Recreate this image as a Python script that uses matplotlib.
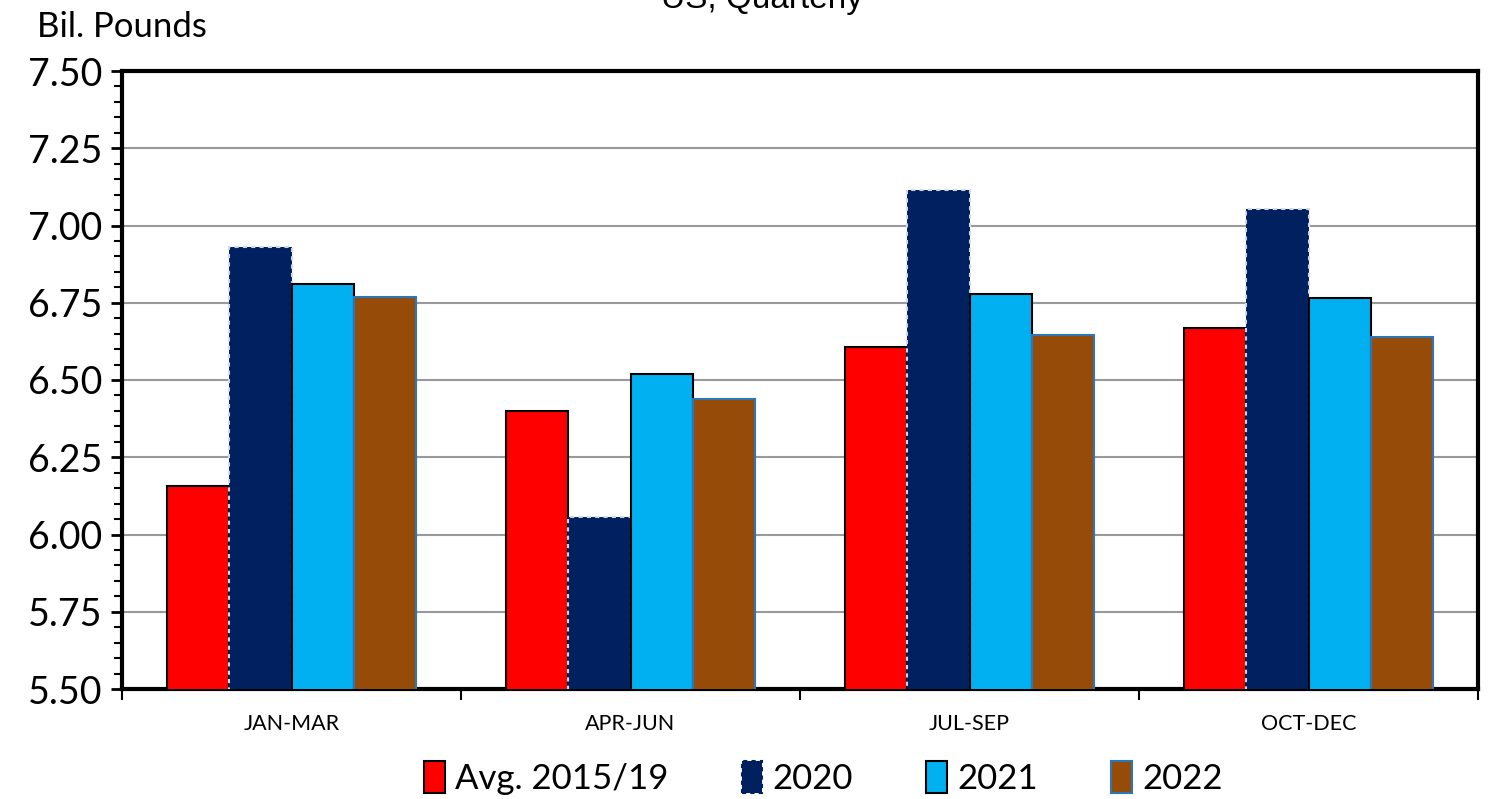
import numpy as np
import matplotlib
matplotlib.use('Agg')
import matplotlib.pyplot as plt
from matplotlib.patches import Patch
from matplotlib.ticker import MultipleLocator

quarters = ['JAN-MAR', 'APR-JUN', 'JUL-SEP', 'OCT-DEC']
series_names = ['Avg. 2015/19', '2020', '2021', '2022']
avg_2015_19 = [6.157, 6.400, 6.607, 6.668]
y2020 = [6.930, 6.057, 7.115, 7.053]
y2021 = [6.811, 6.519, 6.778, 6.765]
y2022 = [6.769, 6.438, 6.646, 6.639]

colors = ['#FF0000', '#002060', '#00B0F0', '#964B08']
edges = ['black', '#D0D8E8', 'black', '#2E75B6']
styles = ['solid', (0, (2, 2)), 'solid', 'solid']

plt.rcParams['font.family'] = ['Lato', 'DejaVu Sans']

fig = plt.figure(figsize=(14.89, 7.99), dpi=100)
ax = fig.add_axes([122 / 1489, 1 - 689 / 799, (1478 - 122) / 1489, (689 - 71) / 799])

x = np.arange(len(quarters))
w = 0.183
data = [avg_2015_19, y2020, y2021, y2022]
for i, vals in enumerate(data):
    ax.bar(x + (i - 1.5) * w, vals, width=w, color=colors[i], edgecolor=edges[i],
           linestyle=styles[i], linewidth=1.5, zorder=3)

ax.set_ylim(5.5, 7.5)
ax.set_xlim(-0.5, 3.5)
ax.yaxis.set_major_locator(MultipleLocator(0.25))
ax.yaxis.set_minor_locator(MultipleLocator(0.05))
ax.set_yticklabels([f'{v:.2f}' for v in ax.get_yticks()])
ax.grid(axis='y', color='#999999', linewidth=1.5, zorder=0)

# category ticks at boundaries, labels at centers
ax.set_xticks(np.arange(-0.5, 4.0, 1.0))
ax.set_xticklabels([])
ax.set_xticks(x, minor=True)
ax.set_xticklabels(quarters, minor=True, fontsize=15.5)
ax.tick_params(axis='x', which='major', length=8, width=1.5, direction='out')
ax.tick_params(axis='x', which='minor', length=0, pad=18)
ax.tick_params(axis='y', which='major', length=8, width=2, labelsize=27, pad=6)
ax.tick_params(axis='y', which='minor', length=6, width=1.5)

for s in ax.spines.values():
    s.set_linewidth(3)

fig.text(37 / 1489, 1 - 37 / 799, 'Bil. Pounds', fontsize=25)
fig.text(762 / 1489, 1 - 8 / 799, 'US, Quarterly', fontsize=24,
         family='Liberation Sans', ha='center', va='baseline')

handles = [Patch(facecolor=colors[i], edgecolor=edges[i] if i != 1 else '#002060',
                 linestyle=styles[i], linewidth=1.5) for i in range(4)]
fig.legend(handles, series_names, loc='lower center', bbox_to_anchor=(0.553, -0.034),
           ncol=4, frameon=False, fontsize=25, handlelength=0.6, handleheight=1.0,
           handletextpad=0.3, columnspacing=2.1)

fig.savefig('out.png', dpi=100)
